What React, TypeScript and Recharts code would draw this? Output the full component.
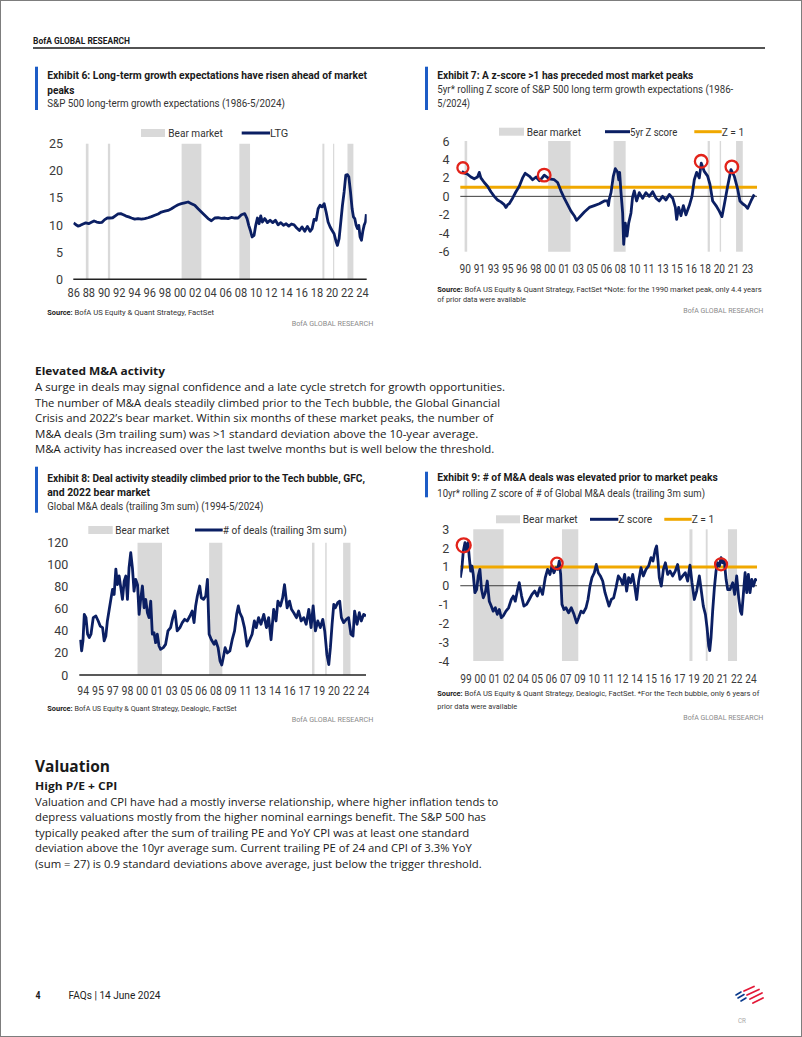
import React from 'react';
import { ComposedChart, Line, XAxis, YAxis, ReferenceArea, ReferenceLine, ReferenceDot } from 'recharts';

const NAVY = '#0b1f63';
const ORANGE = '#f0a800';
const BAND = '#d9d9d9';
const RED = '#e2231a';
const BLUE = '#1c5cc6';
const SANS = "Roboto, 'Noto Sans', sans-serif";
const BODY = "'Open Sans', 'Noto Sans', sans-serif";

// Bear market periods (decimal years)
const BEAR_MARKETS: [number, number][] = [
  [1987.6, 1987.95], [1990.5, 1990.8], [2000.2, 2002.8], [2007.8, 2009.2],
  [2018.72, 2018.98], [2020.12, 2020.28], [2022.02, 2022.8],
];

// Exhibit 6: S&P 500 long-term growth expectations
const LTG: [number, number][] = [
  [1986.0,10.4],[1986.26,10.1],[1986.57,9.8],[1986.88,9.95],[1987.23,10.2],[1987.58,10.4],[1987.97,10.25],[1988.33,10.5],[1988.68,10.75],[1989.03,10.55],[1989.38,10.45],[1989.73,10.5],[1990.08,11.0],[1990.43,11.3],[1990.78,11.3],[1991.13,11.35],[1991.48,11.7],[1991.84,12.05],[1992.19,12.1],[1992.54,11.9],[1992.89,11.65],[1993.24,11.5],[1993.6,11.3],[1994.03,11.1],[1994.47,11.2],[1994.91,11.1],[1995.35,11.2],[1995.79,11.35],[1996.23,11.55],[1996.67,11.8],[1997.11,12.05],[1997.54,12.4],[1997.98,12.55],[1998.42,12.7],[1998.86,13.0],[1999.3,13.4],[1999.74,13.75],[2000.17,13.95],[2000.61,14.1],[2001.05,14.25],[2001.49,13.95],[2001.93,13.65],[2002.37,13.0],[2002.8,12.4],[2003.24,11.8],[2003.68,11.2],[2004.12,10.8],[2004.56,11.3],[2005.0,11.35],[2005.44,11.25],[2005.88,11.3],[2006.32,11.2],[2006.75,11.4],[2007.19,11.3],[2007.63,11.3],[2008.07,11.9],[2008.5,12.1],[2008.81,11.2],[2009.03,9.95],[2009.25,9.0],[2009.47,7.8],[2009.73,8.1],[2009.95,9.95],[2010.17,11.3],[2010.39,10.25],[2010.61,11.7],[2010.83,10.55],[2011.14,11.2],[2011.49,10.45],[2011.84,10.9],[2012.19,10.45],[2012.54,10.9],[2012.89,10.05],[2013.25,10.45],[2013.6,9.95],[2013.95,10.25],[2014.3,9.8],[2014.65,10.2],[2015.0,10.05],[2015.35,9.45],[2015.7,9.0],[2016.05,9.65],[2016.4,8.85],[2016.75,9.75],[2017.1,8.85],[2017.37,9.35],[2017.63,11.05],[2017.9,10.9],[2018.16,13.0],[2018.42,13.65],[2018.68,13.35],[2018.95,13.95],[2019.21,12.4],[2019.47,10.55],[2019.74,9.65],[2020.0,9.0],[2020.26,8.4],[2020.53,6.9],[2020.7,6.25],[2020.92,7.5],[2021.14,10.55],[2021.36,13.65],[2021.58,16.1],[2021.8,19.2],[2022.02,19.3],[2022.2,18.85],[2022.42,16.1],[2022.63,13.0],[2022.81,11.5],[2022.98,11.2],[2023.16,9.95],[2023.33,9.35],[2023.51,9.95],[2023.68,7.8],[2023.86,7.2],[2024.04,8.85],[2024.21,9.95],[2024.39,10.55],[2024.5,12.0],
];
const LTG_TICKS = [1986,1988,1990,1992,1994,1996,1998,2000,2002,2004,2006,2008,2010,2012,2014,2016,2018,2020,2022,2024];
const LTG_LABELS = ['86','88','90','92','94','96','98','00','02','04','06','08','10','12','14','16','18','20','22','24'];
const LTG_Y = [0, 5, 10, 15, 20, 25];

// Exhibit 7: 5yr rolling Z score of LTG
const LTG_Z: [number, number][] = [
  [1990.18,2.7],[1990.5,2.5],[1990.84,2.4],[1991.23,2.1],[1991.62,1.9],[1992.0,2.1],[1992.2,2.6],[1992.39,2.0],[1992.78,1.5],[1993.16,1.1],[1993.55,0.5],[1993.94,0.0],[1994.33,-0.4],[1994.71,-0.6],[1995.1,-0.9],[1995.3,-1.2],[1995.5,-0.9],[1995.68,-0.8],[1996.07,-0.2],[1996.46,0.5],[1996.85,1.1],[1997.23,2.0],[1997.54,2.5],[1998.0,2.2],[1998.4,1.8],[1998.8,2.1],[1999.17,1.7],[1999.5,2.0],[1999.75,2.3],[2000.33,1.9],[2000.91,1.8],[2001.3,1.5],[2001.68,0.6],[2002.07,-0.2],[2002.46,-0.9],[2002.85,-1.6],[2003.23,-2.1],[2003.5,-2.6],[2004.0,-2.1],[2004.4,-1.7],[2004.98,-1.2],[2005.56,-1.0],[2006.14,-0.8],[2006.72,-0.5],[2007.1,-0.5],[2007.2,-1.0],[2007.3,-0.3],[2007.5,0.4],[2007.77,2.2],[2008.0,3.0],[2008.27,2.6],[2008.4,1.8],[2008.5,2.6],[2008.66,0.4],[2008.85,-1.8],[2008.97,-5.2],[2009.16,-2.9],[2009.36,-4.3],[2009.55,-2.9],[2009.82,-1.8],[2010.0,-0.1],[2010.2,0.6],[2010.47,-0.5],[2010.78,0.4],[2011.17,-0.2],[2011.55,0.4],[2011.94,0.0],[2012.33,0.5],[2012.72,-0.2],[2013.1,-0.5],[2013.49,0.0],[2013.88,-0.4],[2014.27,0.2],[2014.66,-0.2],[2014.97,-1.2],[2015.12,-2.5],[2015.35,-1.2],[2015.62,-2.1],[2015.9,-1.0],[2016.2,-2.0],[2016.59,-1.0],[2016.9,0.0],[2017.17,1.8],[2017.44,2.6],[2017.75,2.0],[2017.98,3.6],[2018.33,2.7],[2018.72,2.2],[2018.99,1.3],[2019.3,-0.5],[2019.69,-1.0],[2020.07,-1.6],[2020.38,-2.2],[2020.65,-0.9],[2021.04,1.1],[2021.43,2.9],[2021.81,2.2],[2022.2,0.8],[2022.47,-0.5],[2022.78,-0.8],[2023.09,-1.0],[2023.36,-1.3],[2023.75,-0.5],[2024.13,0.2],
];
const LTG_Z_TICKS = Array.from({ length: 21 }, (_, i) => 1990.58 + i * 1.639);
const LTG_Z_LABELS = ['90','91','93','95','96','98','00','01','03','05','06','08','10','11','13','15','16','18','20','21','23'];
const LTG_Z_Y = [-6, -4, -2, 0, 2, 4, 6];
const LTG_Z_PEAKS: [number, number][] = [[1990.3, 3.1], [1999.74, 2.3], [2017.97, 3.8], [2021.53, 3.2]];

// Exhibit 8: Global M&A deals (trailing 3m sum)
const DEALS: [number, number][] = [
  [1994.13,32],[1994.27,22],[1994.41,31],[1994.55,55],[1994.73,52],[1994.9,37],[1995.08,34],[1995.26,37],[1995.5,52],[1995.78,53.5],[1996.03,49],[1996.24,44.4],[1996.49,43],[1996.66,31],[1996.84,35.4],[1997.0,49],[1997.2,59.6],[1997.37,68.6],[1997.55,77.7],[1997.72,73],[1997.9,96],[1998.07,82],[1998.25,89.8],[1998.43,79],[1998.6,68.6],[1998.78,85],[1998.96,89.8],[1999.13,68.6],[1999.3,97.4],[1999.48,111],[1999.66,97],[1999.83,76],[2000.0,86.8],[2000.2,82],[2000.37,55],[2000.55,70],[2000.72,80.7],[2000.9,61],[2001.07,68.6],[2001.25,56.5],[2001.42,52],[2001.6,67],[2001.77,37],[2001.95,38.4],[2002.12,29.3],[2002.3,37],[2002.48,26.3],[2002.65,23.3],[2002.93,24.8],[2003.18,27.8],[2003.43,40],[2003.71,43],[2003.95,52],[2004.17,58],[2004.41,40],[2004.7,43],[2004.95,47.5],[2005.2,50.5],[2005.48,49],[2005.76,53.5],[2006.0,58],[2006.2,47.5],[2006.37,62.6],[2006.55,71.7],[2006.8,80.7],[2006.97,70],[2007.2,68.6],[2007.44,71.7],[2007.62,86.8],[2007.8,37],[2008.04,32],[2008.33,27.8],[2008.5,31],[2008.75,24.8],[2008.96,12.7],[2009.14,9],[2009.3,15.7],[2009.5,24.8],[2009.73,20],[2010.0,21.8],[2010.25,32],[2010.5,40],[2010.72,55],[2010.9,62.6],[2011.06,56.5],[2011.3,52],[2011.55,43],[2011.83,26.3],[2012.11,32],[2012.36,37],[2012.6,49],[2012.8,43],[2013.05,52],[2013.3,46],[2013.6,55],[2013.88,43],[2014.12,52],[2014.37,32],[2014.65,59.6],[2014.9,49],[2015.1,67],[2015.37,62.6],[2015.6,70],[2015.8,82],[2016.08,61],[2016.33,67],[2016.54,59.6],[2016.78,56.5],[2017.07,52],[2017.3,58],[2017.57,49],[2017.85,52],[2018.1,46],[2018.38,59.6],[2018.62,43],[2018.84,62.6],[2019.08,40],[2019.33,49],[2019.6,43],[2019.86,50.5],[2020.07,40],[2020.3,18.7],[2020.5,9.5],[2020.67,24.8],[2020.85,46],[2021.03,64],[2021.2,61],[2021.45,65.6],[2021.66,67],[2021.84,52],[2022.08,47.5],[2022.36,50.5],[2022.6,52],[2022.85,37],[2023.07,35.4],[2023.24,58],[2023.5,46],[2023.74,56.5],[2023.95,49],[2024.2,55],[2024.45,53.5],
];
const DEALS_TICKS = Array.from({ length: 20 }, (_, i) => 1994.44 + i * 1.565);
const DEALS_LABELS = ['94','95','97','98','00','01','03','05','06','08','09','11','13','14','16','17','19','20','22','24'];
const DEALS_Y = [0, 20, 40, 60, 80, 100, 120];

// Exhibit 9: 10yr rolling Z score of # of Global M&A deals
const DEALS_Z: [number, number][] = [
  [1999.09,0.43],[1999.23,0.96],[1999.35,1.85],[1999.49,2.29],[1999.63,1.85],[1999.75,2.29],[1999.86,1.49],[1999.98,0.78],[2000.09,1.05],[2000.2,0.6],[2000.34,-0.37],[2000.49,-0.2],[2000.63,0.52],[2000.77,0.87],[2000.91,-0.2],[2001.06,-0.64],[2001.23,-0.37],[2001.4,0.25],[2001.57,-0.82],[2001.74,-1.08],[2001.91,-1.35],[2002.09,-1.17],[2002.26,-1.52],[2002.43,-1.26],[2002.6,-1.7],[2002.77,-1.6],[2003.0,-1.35],[2003.23,-1.17],[2003.46,-0.73],[2003.63,-0.55],[2003.8,-0.82],[2004.0,-0.2],[2004.14,0.16],[2004.34,-0.55],[2004.54,-1.08],[2004.77,-0.99],[2005.0,-0.73],[2005.23,-0.46],[2005.46,-0.28],[2005.69,-0.55],[2005.91,-0.1],[2006.14,-0.46],[2006.37,0.43],[2006.57,0.87],[2006.77,0.6],[2006.94,1.05],[2007.11,0.69],[2007.29,0.96],[2007.43,0.87],[2007.57,1.31],[2007.69,0.6],[2007.8,-0.99],[2007.97,-1.26],[2008.14,-1.17],[2008.37,-1.44],[2008.6,-1.17],[2008.83,-1.52],[2009.06,-1.97],[2009.23,-1.7],[2009.43,-1.35],[2009.63,-1.44],[2009.86,-1.17],[2010.03,-0.73],[2010.2,-0.02],[2010.37,0.43],[2010.57,0.69],[2010.74,1.13],[2010.91,0.69],[2011.09,0.52],[2011.29,0.25],[2011.49,-0.37],[2011.66,-0.73],[2011.83,-1.08],[2012.03,-0.73],[2012.23,-0.64],[2012.43,-0.1],[2012.63,0.52],[2012.83,0.34],[2013.0,0.07],[2013.17,0.6],[2013.34,-0.28],[2013.51,0.43],[2013.69,0.16],[2013.86,0.6],[2014.03,-0.02],[2014.2,-0.73],[2014.37,0.25],[2014.57,0.96],[2014.77,0.52],[2015.0,0.87],[2015.23,1.05],[2015.43,1.49],[2015.6,1.31],[2015.8,1.93],[2015.91,2.11],[2016.03,1.31],[2016.14,0.43],[2016.31,-0.02],[2016.49,0.87],[2016.66,1.22],[2016.86,0.6],[2017.06,0.78],[2017.29,0.52],[2017.51,0.78],[2017.71,1.13],[2017.91,0.34],[2018.14,0.52],[2018.37,0.69],[2018.57,0.25],[2018.77,1.1],[2018.94,0.16],[2019.14,-0.73],[2019.34,-0.28],[2019.57,0.52],[2019.74,-0.28],[2019.91,-1.08],[2020.09,-1.52],[2020.23,-2.23],[2020.37,-3.2],[2020.46,-3.45],[2020.57,-2.77],[2020.71,-1.35],[2020.86,-0.1],[2021.0,0.78],[2021.14,1.22],[2021.29,1.05],[2021.43,1.49],[2021.57,1.22],[2021.71,1.31],[2021.86,0.34],[2022.0,-0.2],[2022.2,-0.2],[2022.43,0.16],[2022.6,-0.46],[2022.77,0.52],[2022.94,-0.64],[2023.09,-1.35],[2023.2,-1.52],[2023.34,-0.46],[2023.49,0.69],[2023.63,-0.37],[2023.77,0.6],[2023.91,-0.37],[2024.06,0.34],[2024.2,-0.02],[2024.37,0.34],[2024.49,0.25],
];
const DEALS_Z_TICKS = Array.from({ length: 21 }, (_, i) => 1999.58 + i * 1.221);
const DEALS_Z_LABELS = ['99','00','01','02','04','05','06','07','09','10','11','12','14','15','16','17','19','20','21','22','24'];
const DEALS_Z_Y = [-4, -3, -2, -1, 0, 1, 2, 3];
const DEALS_Z_PEAKS: [number, number, number][] = [[1999.38, 2.15, 7], [2007.37, 1.19, 5.7], [2021.43, 1.14, 6]];

type Box = { left: number; top: number; width: number; height: number };
type Plot = { l: number; r: number; t: number; b: number };

function nearestLabel(ticks: number[], labels: string[], v: number) {
  let best = 0;
  for (let i = 1; i < ticks.length; i++) if (Math.abs(ticks[i] - v) < Math.abs(ticks[best] - v)) best = i;
  return labels[best];
}

function Chart(props: {
  box: Box; plot: Plot; xDomain: [number, number]; xTicks: number[]; xLabels: string[]; xLabelW: number;
  yDomain: [number, number]; yTicks: number[]; yLabelRight: number; xLabelY: number;
  series: [number, number][]; axisLine: boolean; zeroLine: boolean; zLine: boolean;
  circles: [number, number, number][];
}) {
  const { box, plot, xDomain, xTicks, xLabels, xLabelW, yDomain, yTicks, yLabelRight, xLabelY, series, axisLine, zeroLine, zLine, circles } = props;
  const data = series.map(([x, v]) => ({ x, v }));
  const margin = { top: plot.t - box.top, right: box.left + box.width - plot.r, bottom: 0, left: 0 };
  const yw = plot.l - box.left;
  const xh = box.top + box.height - plot.b;
  const bands = BEAR_MARKETS.filter(([a, b]) => b > xDomain[0] && a < xDomain[1]);
  const xTick = (p: any) => (
    <text x={p.x - xLabelW / 2} y={xLabelY - box.top} dominantBaseline="central" fontSize={12.5} fontFamily={SANS} fill="#3a3a3a"
      textLength={xLabelW} lengthAdjust="spacingAndGlyphs">
      {nearestLabel(xTicks, xLabels, p.payload.value)}
    </text>
  );
  const yTick = (p: any) => (
    <text x={yLabelRight - box.left} y={p.y} textAnchor="end" dominantBaseline="central" fontSize={12.5} fontFamily={SANS} fill="#3a3a3a">
      {String(p.payload.value)}
    </text>
  );
  return (
    <div style={{ position: 'absolute', left: box.left, top: box.top, width: box.width, height: box.height }}>
      <ComposedChart width={box.width} height={box.height} data={data} margin={margin}>
        <XAxis type="number" dataKey="x" domain={xDomain} ticks={xTicks} interval={0} allowDataOverflow height={xh}
          axisLine={axisLine ? { stroke: '#222', strokeWidth: 1.5 } : false} tickLine={false} tick={xTick} />
        <YAxis type="number" domain={yDomain} ticks={yTicks} interval={0} allowDataOverflow width={yw}
          axisLine={false} tickLine={false} tick={yTick} />
        {bands.map(([a, b], i) => (
          <ReferenceArea key={'b' + i} x1={Math.max(a, xDomain[0])} x2={Math.min(b, xDomain[1])} y1={yDomain[0]} y2={yDomain[1]}
            fill={BAND} fillOpacity={1} stroke="none" />
        ))}
        {zeroLine && <ReferenceLine y={0} stroke="#3c3c3c" strokeWidth={1} />}
        {zLine && <ReferenceLine y={1} stroke={ORANGE} strokeWidth={3} />}
        <Line type="linear" dataKey="v" stroke={NAVY} strokeWidth={2.8} dot={false} isAnimationActive={false} strokeLinejoin="round" />
        {circles.map(([x, y, r], i) => (
          <ReferenceDot key={'c' + i} x={x} y={y} r={r} fill="none" stroke={RED} strokeWidth={2.3} />
        ))}
      </ComposedChart>
    </div>
  );
}

function T({ x, y, w, s, b = false, c = '#1a1a1a', f = SANS, children }: any) {
  return (
    <text x={x} y={y} fontSize={s} fontWeight={b ? 700 : 400} fill={c} fontFamily={f}
      textLength={w} lengthAdjust="spacingAndGlyphs" dominantBaseline="central">
      {children}
    </text>
  );
}

function LegendBand({ x, y, w, tx, tw }: any) {
  return (
    <g>
      <rect x={x} y={y - 4} width={w} height={8} fill={BAND} />
      <T x={tx} y={y} w={tw} s={11.5} c="#333">Bear market</T>
    </g>
  );
}
function LegendLine({ x1, x2, y, color, tx, tw, label }: any) {
  return (
    <g>
      <line x1={x1} x2={x2} y1={y} y2={y} stroke={color} strokeWidth={3} />
      <T x={tx} y={y} w={tw} s={11.5} c="#333">{label}</T>
    </g>
  );
}

const BODY1 = [
  'A surge in deals may signal confidence and a late cycle stretch for growth opportunities.',
  'The number of M&A deals steadily climbed prior to the Tech bubble, the Global Ginancial',
  'Crisis and 2022\u2019s bear market. Within six months of these market peaks, the number of',
  'M&A deals (3m trailing sum) was >1 standard deviation above the 10-year average.',
  'M&A activity has increased over the last twelve months but is well below the threshold.',
];
const BODY1_END = [505, 500, 493.3, 478.3, 494.3];
const BODY1_Y = [387.3, 402.7, 418.3, 434, 449.3];
const BODY2 = [
  'Valuation and CPI have had a mostly inverse relationship, where higher inflation tends to',
  'depress valuations mostly from the higher nominal earnings benefit. The S&P 500 has',
  'typically peaked after the sum of trailing PE and YoY CPI was at least one standard',
  'deviation above the 10yr average sum. Current trailing PE of 24 and CPI of 3.3% YoY',
  '(sum = 27) is 0.9 standard deviations above average, just below the trigger threshold.',
];
const BODY2_END = [498.3, 486, 469.3, 471.7, 481.7];
const BODY2_Y = [801.7, 817.3, 832.7, 848.3, 864];

export default function App() {
  return (
    <div style={{ position: 'absolute', left: 0, top: 0, width: 802, height: 1037, background: '#fff', boxSizing: 'border-box', border: '1px solid #7d7d7d', overflow: 'hidden' }}>
      <Chart box={{ left: 30, top: 125, width: 345, height: 180 }} plot={{ l: 72.3, r: 365.7, t: 142.7, b: 278.3 }}
        xDomain={[1985.95, 2024.55]} xTicks={LTG_TICKS} xLabels={LTG_LABELS} xLabelW={12.4} yDomain={[0, 25]} yTicks={LTG_Y}
        yLabelRight={62} xLabelY={291.7} series={LTG} axisLine zeroLine={false} zLine={false} circles={[]} />
      <Chart box={{ left: 420, top: 125, width: 350, height: 160 }} plot={{ l: 459.3, r: 756, t: 140, b: 250.7 }}
        xDomain={[1990.0, 2024.45]} xTicks={LTG_Z_TICKS} xLabels={LTG_Z_LABELS} xLabelW={11.4} yDomain={[-6, 6]} yTicks={LTG_Z_Y}
        yLabelRight={448.5} xLabelY={267.5} series={LTG_Z} axisLine={false} zeroLine zLine
        circles={LTG_Z_PEAKS.map(([x, y], i) => [x, y, i === 0 ? 5.5 : 6.3] as [number, number, number])} />
      <Chart box={{ left: 30, top: 525, width: 345, height: 180 }} plot={{ l: 78.3, r: 365, t: 541.7, b: 674 }}
        xDomain={[1994.02, 2024.45]} xTicks={DEALS_TICKS} xLabels={DEALS_LABELS} xLabelW={11.8} yDomain={[0, 120]} yTicks={DEALS_Y}
        yLabelRight={67.3} xLabelY={689.3} series={DEALS} axisLine zeroLine={false} zLine={false} circles={[]} />
      <Chart box={{ left: 420, top: 510, width: 350, height: 185 }} plot={{ l: 459.3, r: 756, t: 528.3, b: 660 }}
        xDomain={[1999.09, 2024.51]} xTicks={DEALS_Z_TICKS} xLabels={DEALS_Z_LABELS} xLabelW={11.4} yDomain={[-4, 3]} yTicks={DEALS_Z_Y}
        yLabelRight={448.3} xLabelY={677} series={DEALS_Z} axisLine={false} zeroLine zLine circles={DEALS_Z_PEAKS} />

      <svg width={802} height={1037} style={{ position: 'absolute', left: -1, top: -1, pointerEvents: 'none' }}>
        {/* header */}
        <T x={33} y={41} w={97} s={8.5} b c="#1a1a1a">BofA GLOBAL RESEARCH</T>
        <line x1={33} x2={765} y1={48} y2={48} stroke="#1a1a1a" strokeWidth={1.3} />

        {/* Exhibit 6 */}
        <rect x={35} y={66.7} width={3} height={43.3} fill={BLUE} />
        <T x={47.3} y={75} w={319.7} s={11.5} b>Exhibit 6: Long-term growth expectations have risen ahead of market</T>
        <T x={47.3} y={90} w={27} s={11.5} b>peaks</T>
        <T x={47.3} y={103.3} w={237.7} s={11.5} c="#333">S&amp;P 500 long-term growth expectations (1986-5/2024)</T>
        <LegendBand x={141} y={133} w={24} tx={168.3} tw={54.4} />
        <LegendLine x1={241.7} x2={270} y={133} color={NAVY} tx={270} tw={18.3} label="LTG" />
        <T x={47.3} y={312.3} w={25.4} s={7.8} b>Source:</T>
        <T x={74.5} y={312.3} w={139.5} s={7.8} c="#333">BofA US Equity &amp; Quant Strategy, FactSet</T>
        <T x={291.7} y={323.3} w={81.6} s={7.5} c="#8a8a8a">BofA GLOBAL RESEARCH</T>

        {/* Exhibit 7 */}
        <rect x={425} y={66.7} width={3} height={43.3} fill={BLUE} />
        <T x={437.3} y={75} w={256} s={11.5} b>Exhibit 7: A z-score &gt;1 has preceded most market peaks</T>
        <T x={437.3} y={89.3} w={296} s={11.5} c="#333">5yr* rolling Z score of S&amp;P 500 long term growth expectations (1986-</T>
        <T x={437.3} y={102.7} w={32.7} s={11.5} c="#333">5/2024)</T>
        <LegendBand x={499} y={131.7} w={25} tx={526.7} tw={54.3} />
        <LegendLine x1={605} x2={630} y={131.7} color={NAVY} tx={630} tw={47.3} label="5yr Z score" />
        <LegendLine x1={694.3} x2={721.7} y={131.7} color={ORANGE} tx={721.7} tw={22.6} label="Z = 1" />
        <T x={437.3} y={289.3} w={25.4} s={7.8} b>Source:</T>
        <T x={464.5} y={289.3} w={297.2} s={7.8} c="#333">BofA US Equity &amp; Quant Strategy, FactSet *Note: for the 1990 market peak, only 4.4 years</T>
        <T x={437.3} y={299.3} w={88.7} s={7.8} c="#333">of prior data were available</T>
        <T x={683.3} y={310} w={80} s={7.5} c="#8a8a8a">BofA GLOBAL RESEARCH</T>

        {/* Body 1 */}
        <T x={35} y={370} w={130} s={11} b f={BODY}>Elevated M&amp;A activity</T>
        {BODY1.map((t, i) => (
          <T key={'a' + i} x={35} y={BODY1_Y[i]} w={BODY1_END[i] - 35} s={10.7} f={BODY}>{t}</T>
        ))}

        {/* Exhibit 8 */}
        <rect x={35} y={466.7} width={3} height={46} fill={BLUE} />
        <T x={47.3} y={478.3} w={317.7} s={11.5} b>Exhibit 8: Deal activity steadily climbed prior to the Tech bubble, GFC,</T>
        <T x={47.3} y={492.3} w={102.7} s={11.5} b>and 2022 bear market</T>
        <T x={47.3} y={506} w={216} s={11.5} c="#333">Global M&amp;A deals (trailing 3m sum) (1994-5/2024)</T>
        <LegendBand x={88.3} y={530} w={24.4} tx={115.3} tw={54} />
        <LegendLine x1={195} x2={222.7} y={530} color={NAVY} tx={222.7} tw={124} label="# of deals (trailing 3m sum)" />
        <T x={47.3} y={708.3} w={25.4} s={7.8} b>Source:</T>
        <T x={74.5} y={708.3} w={162.2} s={7.8} c="#333">BofA US Equity &amp; Quant Strategy, Dealogic, FactSet</T>
        <T x={291.7} y={719.3} w={81.6} s={7.5} c="#8a8a8a">BofA GLOBAL RESEARCH</T>

        {/* Exhibit 9 */}
        <rect x={425} y={471.7} width={3} height={25.6} fill={BLUE} />
        <T x={437.3} y={477.3} w={280.4} s={11.5} b>Exhibit 9: # of M&amp;A deals was elevated prior to market peaks</T>
        <T x={437.3} y={492.7} w={267.7} s={11.5} c="#333">10yr* rolling Z score of # of Global M&amp;A deals (trailing 3m sum)</T>
        <LegendBand x={496} y={519.3} w={24} tx={522.7} tw={55} />
        <LegendLine x1={590} x2={618.3} y={519.3} color={NAVY} tx={618.3} tw={34} label="Z score" />
        <LegendLine x1={664.3} x2={691.7} y={519.3} color={ORANGE} tx={691.7} tw={22.6} label="Z = 1" />
        <T x={437.3} y={693.3} w={25.4} s={7.8} b>Source:</T>
        <T x={464.5} y={693.3} w={294.8} s={7.8} c="#333">BofA US Equity &amp; Quant Strategy, Dealogic, FactSet. *For the Tech bubble, only 6 years of</T>
        <T x={437.3} y={706} w={80} s={7.8} c="#333">prior data were available</T>
        <T x={683.3} y={717.3} w={80} s={7.5} c="#8a8a8a">BofA GLOBAL RESEARCH</T>

        {/* Body 2 */}
        <T x={35} y={765} w={75} s={16.5} b f={BODY}>Valuation</T>
        <T x={35} y={785} w={82.3} s={11} b f={BODY}>High P/E + CPI</T>
        {BODY2.map((t, i) => (
          <T key={'v' + i} x={35} y={BODY2_Y[i]} w={BODY2_END[i] - 35} s={10.7} f={BODY}>{t}</T>
        ))}

        {/* footer */}
        <T x={35.5} y={995} w={5} s={10.5} b>4</T>
        <T x={68.5} y={995} w={92} s={10.5} c="#222">FAQs | 14 June 2024</T>
        <g transform="translate(735,986)">
          <line x1={1} y1={9} x2={6} y2={6} stroke="#0a3a8c" strokeWidth={1.6} strokeLinecap="round" />
          <line x1={3} y1={12} x2={9} y2={8.5} stroke="#0a3a8c" strokeWidth={1.6} strokeLinecap="round" />
          <line x1={6} y1={15} x2={11} y2={12} stroke="#0a3a8c" strokeWidth={1.6} strokeLinecap="round" />
          <line x1={9} y1={5} x2={19} y2={0.5} stroke="#e31837" strokeWidth={1.8} strokeLinecap="round" />
          <line x1={12} y1={9} x2={24} y2={3.5} stroke="#e31837" strokeWidth={1.8} strokeLinecap="round" />
          <line x1={15} y1={13} x2={27} y2={7} stroke="#e31837" strokeWidth={1.8} strokeLinecap="round" />
          <line x1={18} y1={17} x2={28} y2={12} stroke="#e31837" strokeWidth={1.8} strokeLinecap="round" />
        </g>
        <T x={738} y={1021} w={8} s={6.5} c="#aaa">CR</T>
      </svg>
    </div>
  );
}
